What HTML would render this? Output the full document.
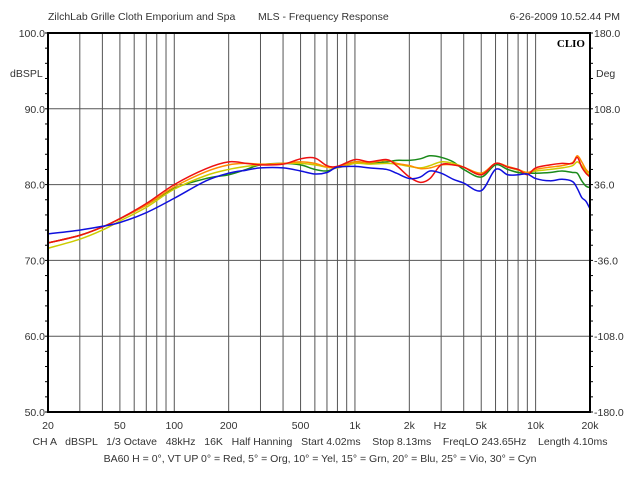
<!DOCTYPE html>
<html><head><meta charset="utf-8"><style>
body{margin:0;background:#fff;}
svg{display:block;font-family:"Liberation Sans",Arial,sans-serif;}
.pre{white-space:pre;}
</style></head><body>
<svg id="chart" width="640" height="480">
<g id="grid"></g>
<g id="series"></g>
<g id="axes"></g>
<text x="48" y="20" font-size="10.5" fill="#333">ZilchLab Grille Cloth Emporium and Spa</text>
<text x="258" y="20" font-size="10.5" fill="#333">MLS - Frequency Response</text>
<text x="620" y="20" font-size="10.5" fill="#333" text-anchor="end">6-26-2009 10.52.44 PM</text>
<text x="10" y="77" font-size="10.5" fill="#333">dBSPL</text>
<text x="596" y="77" font-size="10.5" fill="#333">Deg</text>
<text x="440" y="429" font-size="10.5" fill="#333" text-anchor="middle">Hz</text>
<rect x="552" y="35" width="36" height="15" fill="#fff"/>
<text x="585" y="47" font-size="11" font-weight="bold" font-family="Liberation Serif,serif" fill="#000" text-anchor="end">CLIO</text>
<text class="pre" x="320" y="445" font-size="10.5" fill="#333" text-anchor="middle">CH A   dBSPL   1/3 Octave   48kHz   16K   Half Hanning   Start 4.02ms    Stop 8.13ms    FreqLO 243.65Hz    Length 4.10ms</text>
<text class="pre" x="320" y="462" font-size="10.5" fill="#333" text-anchor="middle">BA60 H = 0°, VT UP 0° = Red, 5° = Org, 10° = Yel, 15° = Grn, 20° = Blu, 25° = Vio, 30° = Cyn</text>
</svg>
<script>
const freqs=[20,30,40,50,70,100,150,200,250,300,400,500,600,700,800,1000,1200,1500,1700,2000,2300,2600,3000,3500,4000,5000,6000,7000,8000,9000,10000,12000,14000,16000,17000,18000,19000,20000];
const red=[72.3,73.3,74.4,75.5,77.5,80.0,82.1,83.0,82.8,82.6,82.7,83.4,83.5,82.5,82.4,83.3,83.0,83.3,82.5,81.0,80.3,80.8,82.6,82.6,82.3,81.3,82.8,82.3,82.0,81.3,82.2,82.6,82.8,82.8,83.6,82.3,81.5,81.0];
const orange=[72.3,73.3,74.4,75.5,77.3,79.7,81.7,82.6,82.8,82.7,82.8,83.0,82.8,82.3,82.3,83.0,82.9,83.2,82.8,82.5,82.1,82.2,82.6,82.6,82.3,81.5,82.8,82.4,82.0,81.6,82.0,82.3,82.5,82.9,83.8,83.0,82.0,81.5];
const yellow=[71.6,72.8,74.0,75.2,77.0,79.4,81.2,82.0,82.4,82.6,82.8,82.8,82.6,82.3,82.2,82.8,82.7,82.8,82.7,82.4,82.2,82.5,83.0,82.8,82.3,81.3,82.8,82.3,81.9,81.6,81.8,82.0,82.2,82.5,83.0,82.5,81.8,81.0];
const green=[72.3,73.3,74.4,75.5,77.3,79.5,80.8,81.3,82.0,82.6,82.8,82.6,82.0,81.8,82.3,83.0,82.8,83.0,83.2,83.2,83.4,83.8,83.6,83.0,82.0,81.0,82.6,82.0,81.6,81.5,81.5,81.6,81.8,81.6,81.5,80.5,79.8,79.6];
const blue=[73.5,74.0,74.5,75.0,76.3,78.2,80.5,81.5,81.9,82.2,82.2,81.8,81.4,81.6,82.3,82.4,82.2,82.0,81.5,80.8,81.0,81.8,81.5,80.7,80.2,79.2,82.0,81.3,81.3,81.4,80.8,80.5,80.7,80.4,79.5,78.3,77.8,76.8];
const leftTicks=["100.0","90.0","80.0","70.0","60.0","50.0"];
const rightTicks=["180.0","108.0","36.0","-36.0","-108.0","-180.0"];
const xLabelFreqs=[20,50,100,200,500,1000,2000,5000,10000,20000];
const xLabels=["20","50","100","200","500","1k","2k","5k","10k","20k"];

const L=48,R=590,T=33,B=412;
const xS=f=>L+(R-L)*Math.log10(f/20)/3;
const yS=d=>T+(100-d)*(B-T)/50;
const NS="http://www.w3.org/2000/svg";
function mk(tag,attrs,parent){const e=document.createElementNS(NS,tag);for(const k in attrs)e.setAttribute(k,attrs[k]);parent.appendChild(e);return e;}
const grid=document.getElementById('grid'),axes=document.getElementById('axes'),ser=document.getElementById('series');
for(let dec of [10,100,1000,10000]){for(let m=1;m<10;m++){const f=dec*m;if(f<=20||f>=20000)continue;
 const ln=mk('line',{x1:xS(f),x2:xS(f),y1:T,y2:B,stroke:'#555','stroke-width':1},grid);
 
 }}
for(let d=60;d<=90;d+=10){const ln=mk('line',{x1:L,x2:R,y1:yS(d),y2:yS(d),stroke:'#555','stroke-width':1},grid);
 
 }
const series=[[green,'#1a8a1a','green-15deg'],[yellow,'#cccc00','yellow-10deg'],[orange,'#ff8c00','orange-5deg'],[red,'#ee1111','red-0deg'],[blue,'#1010dd','blue-20deg']];
for(const [vals,col,name] of series){
 const pts=freqs.map((f,i)=>[xS(f),yS(vals[i])]);
 let d='M'+pts[0][0]+','+pts[0][1];
 for(let i=0;i<pts.length-1;i++){const p0=pts[Math.max(0,i-1)],p1=pts[i],p2=pts[i+1],p3=pts[Math.min(pts.length-1,i+2)];
  const c1x=p1[0]+(p2[0]-p0[0])/6,c1y=p1[1]+(p2[1]-p0[1])/6,c2x=p2[0]-(p3[0]-p1[0])/6,c2y=p2[1]-(p3[1]-p1[1])/6;
  d+=` C${c1x},${c1y} ${c2x},${c2y} ${p2[0]},${p2[1]}`;}
 const p=mk('path',{d:d,fill:'none',stroke:col,'stroke-width':1.5},ser);
 
 
}
const fr=mk('rect',{x:L,y:T,width:R-L,height:B-T,fill:'none',stroke:'#000','stroke-width':2},axes);


for(let d=50;d<=100;d+=2){const y=yS(d);
 mk('line',{x1:L-3,x2:L,y1:y,y2:y,stroke:'#000','stroke-width':1},axes);
 mk('line',{x1:R,x2:R+3,y1:y,y2:y,stroke:'#000','stroke-width':1},axes);}
leftTicks.forEach((t,i)=>{const y=yS(100-10*i);
 const e=mk('text',{x:L-3,y:y+4,'font-size':10.5,fill:'#333','text-anchor':'end'},axes);e.textContent=t;
 
 
 const e2=mk('text',{x:R+4,y:y+4,'font-size':10.5,fill:'#333'},axes);e2.textContent=rightTicks[i];
 
 });
xLabelFreqs.forEach((f,i)=>{const e=mk('text',{x:xS(f),y:429,'font-size':10.5,fill:'#333','text-anchor':'middle'},axes);e.textContent=xLabels[i];
 
 });
</script>
</body></html>
